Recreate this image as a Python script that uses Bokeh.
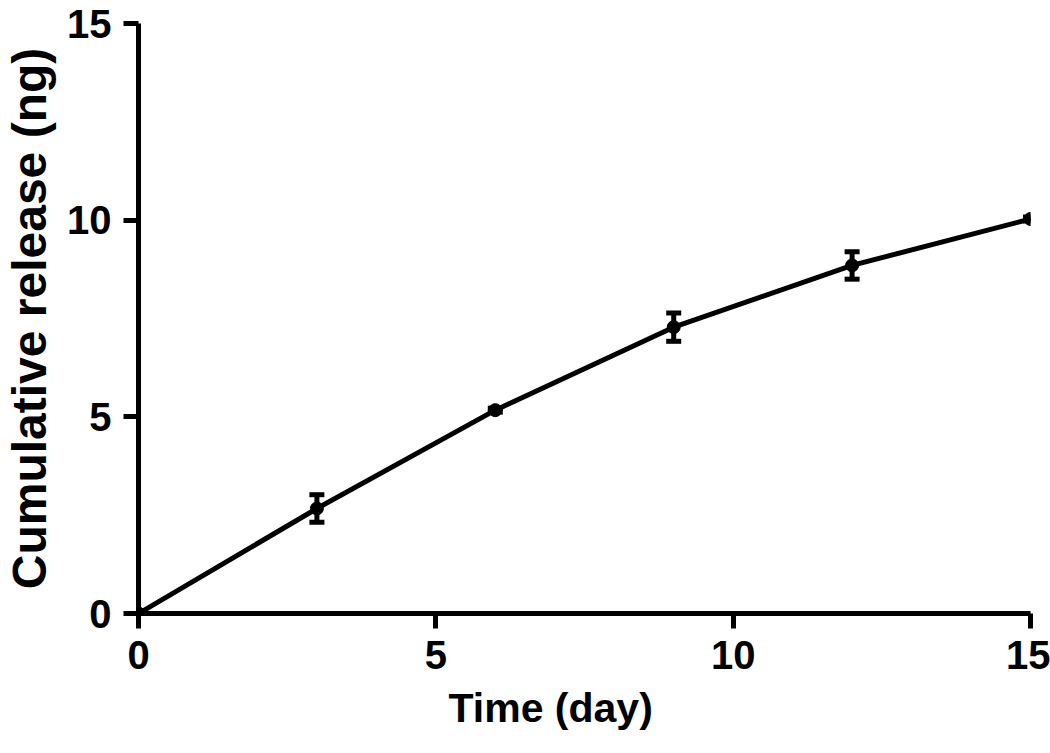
from bokeh.plotting import figure
from bokeh.models import ColumnDataSource, Range1d, Whisker, TeeHead, FixedTicker, Title
from bokeh.embed import file_html
from bokeh.resources import INLINE

# data
time_day = [0, 3, 6, 9, 12, 15]
release_ng = [0.0, 2.67, 5.17, 7.28, 8.85, 10.03]
release_err = [0.0, 0.35, 0.05, 0.36, 0.35, 0.05]
x_ticks = [0, 5, 10, 15]
y_ticks = [0, 5, 10, 15]
x_label = "Time (day)"
y_label = "Cumulative release (ng)"

src = ColumnDataSource(dict(
    x=time_day, y=release_ng,
    upper=[v + e for v, e in zip(release_ng, release_err)],
    lower=[v - e for v, e in zip(release_ng, release_err)],
))

FONT = "Liberation Sans"

p = figure(width=1050, height=753, output_backend="svg", toolbar_location=None,
           x_range=Range1d(0, 15), y_range=Range1d(0, 15),
           min_border_left=137, min_border_right=20, min_border_top=23, min_border_bottom=140)
p.outline_line_color = None
p.grid.grid_line_color = None
p.background_fill_color = "white"

p.line("x", "y", source=src, line_color="black", line_width=5)
p.scatter("x", "y", source=src, size=13, color="black")
w = Whisker(base="x", upper="upper", lower="lower", source=src,
            line_color="black", line_width=5,
            upper_head=TeeHead(size=15, line_width=5, line_color="black"),
            lower_head=TeeHead(size=15, line_width=5, line_color="black"))
p.add_layout(w)

for ax in (p.xaxis[0], p.yaxis[0]):
    ax.axis_line_width = 5
    ax.axis_line_color = "black"
    ax.major_tick_line_width = 5
    ax.major_tick_line_color = "black"
    ax.major_tick_out = 15
    ax.major_tick_in = 0
    ax.minor_tick_out = 0
    ax.minor_tick_in = 0
    ax.major_label_text_font = FONT
    ax.major_label_text_font_style = "bold"
    ax.major_label_text_font_size = "40px"
    ax.major_label_text_color = "black"
    ax.axis_label_text_font = FONT
    ax.axis_label_text_font_style = "bold"
    ax.axis_label_text_color = "black"

p.xaxis[0].ticker = FixedTicker(ticks=x_ticks)
p.yaxis[0].ticker = FixedTicker(ticks=y_ticks)
p.yaxis[0].axis_label = y_label
p.yaxis[0].axis_label_text_font_size = "48px"
p.xaxis[0].major_label_standoff = 12
p.yaxis[0].major_label_standoff = 12
p.yaxis[0].axis_label_standoff = 8

xt = Title(text=x_label, align="left", offset=310, text_font=FONT,
           text_font_style="bold", text_font_size="41px", text_color="black",
           standoff=22)
p.add_layout(xt, "below")

open("out.html", "w").write(file_html(p, INLINE))
